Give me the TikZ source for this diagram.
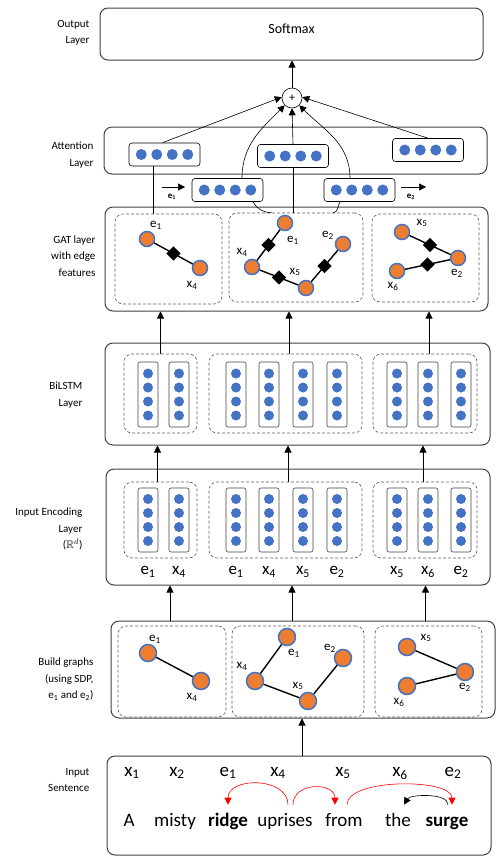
\documentclass[tikz,border=0pt]{standalone}
\usepackage{amssymb}
\usepackage{fontspec}
\setmainfont{Carlito}
\usetikzlibrary{fit, arrows.meta, shapes.geometric}
\definecolor{dotblue}{HTML}{4472C4}
\definecolor{vorange}{HTML}{ED7D31}
\definecolor{boxgray}{HTML}{404040}

\begin{document}
\begin{tikzpicture}[
                > = {Triangle[length = 7pt, width = 7pt]}, % arrow head style
                x = 1pt, y = -1pt, % one unit per pixel, y downwards
                semithick, % line style
                layer/.style = {draw = boxgray, line width = 1pt, rounded corners = 8pt,
                    inner sep = 0pt, fit = {#1}},
                grp/.style = {draw = boxgray!85, dash pattern = on 3pt off 2pt,
                    rounded corners = 8pt, inner sep = 0pt, fit = {#1}},
                vec/.style = {draw = black, rounded corners = 3pt,
                    minimum width = 71pt, minimum height = 23pt},
                col/.style = {draw = boxgray, rounded corners = 2pt,
                    inner sep = 0pt, minimum width = 20pt, minimum height = 65pt},
                dot/.style = {circle, fill = dotblue, inner sep = 0pt,
                    minimum size = 10pt},
                vert/.style = {circle, fill = vorange, draw = dotblue,
                    line width = 1.5pt, inner sep = 0pt, minimum size = 15pt},
                feat/.style = {diamond, fill = black, inner sep = 0pt,
                    minimum size = 15pt},
                link/.style = {line width = 1.4pt},
                side/.style = {anchor = east, align = right,
                    font = \fontsize{11}{16.5}\selectfont},
                glab/.style = {inner sep = 0pt, font = \fontsize{13}{15}\selectfont},
                tok/.style = {anchor = base, inner xsep = 1pt, inner ysep = 7pt,
                    text height = 14pt, text depth = 4pt,
                    font = \fontsize{19}{22}\selectfont}
            ]

            \useasboundingbox (0,0) rectangle (503,863);

            % layer frames
            \node[layer = {(100,8) (483,60)}] (out)
                {\fontsize{14}{16}\selectfont Softmax};
            \node[layer = {(104,127) (487,174)}] (att) {};
            \node[layer = {(105,207) (488,311)}] (gat) {};
            \node[layer = {(105,343) (490,445)}] (bil) {};
            \node[layer = {(106,469) (490,585)}] (enc) {};
            \node[layer = {(111,621) (495,718)}] (build) {};
            \node[layer = {(107,756) (491,855)}] (sent) {};

            % layer names
            \node[side] (lout) at (93,33) {Output\\Layer};
            \node[side] (latt) at (97,155) {Attention\\Layer};
            \node[side] (lgat) at (99,256) {GAT layer\\with edge\\features};
            \node[side] (lbil) at (86,395) {BiLSTM\\Layer};
            \node[side] (lenc) at (86,529) {Input Encoding\\Layer\\($\mathbb{R}^{d}$)};
            \node[side] (lbuild) at (97,679)
                {Build graphs\\(using SDP,\\e\textsubscript{1} and e\textsubscript{2})};
            \node[side] (lsent) at (93,780) {Input\\Sentence};

            % attention
            \node[circle, draw = black, inner sep = 0pt, minimum size = 20pt,
                font = \fontsize{12}{12}\selectfont] (plus) at (292,98) {+};
            \node[vec] (a1) at (164.5,154.5) {};
            \node[vec] (a2) at (293,156) {};
            \node[vec] (a3) at (428,150) {};
            \node[vec] (l1) at (227.5,190) {};
            \node[vec] (l2) at (359.5,190) {};
            \foreach \nm in {a1,a2,a3,l1,l2}
                \foreach \d in {-23.25,-7.75,7.75,23.25}
                    \node[dot, minimum size = 11pt] at ([xshift=\d]\nm.center) {};

            \node[inner sep = 0pt, font = \bfseries\fontsize{9}{10}\selectfont]
                (v1) at (172,197) {e\textsubscript{1}};
            \node[inner sep = 0pt, font = \bfseries\fontsize{9}{10}\selectfont]
                (v2) at (411,197) {e\textsubscript{2}};
            \coordinate (v1a) at (162,187); \coordinate (v1b) at (185,187);
            \coordinate (v2a) at (401,187); \coordinate (v2b) at (426,187);
            \draw[->] (v1a) -- (v1b);
            \draw[->] (v2a) -- (v2b);

            \draw[->] (plus.north) -- (plus.north |- out.south);
            \draw[->] ([xshift=-2]a1.north) -- (plus.175);
            \draw[->] (a2.north) -- (plus.south);
            \draw[->] (a3.north) -- (plus.5);
            \draw[->] ([xshift=14.5]l1.north) to[out=90, in=225] (plus.225);
            \draw[->] ([xshift=-9.5]l2.north) to[out=90, in=-45] (plus.-45);

            % GAT groups
            \node[grp = {(115,214) (222,304)}] (gl) {};
            \node[grp = {(229,213) (363,302)}] (gm) {};
            \node[grp = {(372,214) (479,302)}] (gr) {};

            \draw ([xshift=-11.5]a1.south) -- ([xshift=-11.5]a1.south |- gl.north);
            \draw (a2.south) -- (a2.south |- gm.north);
            \draw ([xshift=25.5]l1.south) to[out=-60, in=180] ([xshift=-24]gm.north);
            \draw ([xshift=-19.5]l2.south) to[out=-120, in=0] ([xshift=37]gm.north);

            \node[vert] (ge1) at (147,239) {}; \node[vert] (gx4) at (200,268) {};
            \node[vert] (me1) at (285,223) {}; \node[vert] (mx4) at (252,267) {};
            \node[vert] (mx5) at (306,288) {}; \node[vert] (me2) at (343,244) {};
            \node[vert] (rx5) at (402,232) {}; \node[vert] (re2) at (458,258) {};
            \node[vert] (rx6) at (397,271) {};

            \path[link] (ge1) edge node[feat] {} (gx4);
            \path[link] (mx4) edge node[feat] {} (me1);
            \path[link] (mx4) edge node[feat] {} (mx5);
            \path[link] (mx5) edge node[feat] {} (me2);
            \path[link] (rx5) edge node[feat] {} (re2);
            \path[link] (rx6) edge node[feat] {} (re2);

            \node[glab] (tge1) at (156,225) {e\textsubscript{1}};
            \node[glab] (tgx4) at (192,285) {x\textsubscript{4}};
            \node[glab] (tme1) at (293,240) {e\textsubscript{1}};
            \node[glab] (tmx4) at (242,252) {x\textsubscript{4}};
            \node[glab] (tmx5) at (295,272) {x\textsubscript{5}};
            \node[glab] (tme2) at (328,235) {e\textsubscript{2}};
            \node[glab] (trx5) at (422,223) {x\textsubscript{5}};
            \node[glab] (tre2) at (457,273) {e\textsubscript{2}};
            \node[glab] (trx6) at (393,286) {x\textsubscript{6}};

            % BiLSTM
            \node[grp = {(124,354) (197,433)}] (bg1) {};
            \node[grp = {(209,354) (362,433)}] (bg2) {};
            \node[grp = {(373,354) (477,433)}] (bg3) {};
            \foreach \nm/\cx in {b1/148, b2/179, b3/236, b4/269, b5/303,
                                 b6/337, b7/397, b8/428, b9/461} {
                \node[col] (\nm) at (\cx,394.5) {};
                \foreach \d in {-21,-7,7,21}
                    \node[dot] at ([yshift=\d]\nm.center) {};
            }
            \foreach \g/\s in {bg1/0, bg2/3.5, bg3/4}
                \draw[->] ([xshift=\s]\g.north) -- ([xshift=\s]\g.north |- gat.south);

            % input encoding
            \node[grp = {(124,482) (197,558)}] (eg1) {};
            \node[grp = {(209,482) (362,558)}] (eg2) {};
            \node[grp = {(373,482) (477,558)}] (eg3) {};
            \foreach \nm/\cx/\t in {c1/148/e\textsubscript{1}, c2/179/x\textsubscript{4},
                                    c3/236/e\textsubscript{1}, c4/269/x\textsubscript{4},
                                    c5/303/x\textsubscript{5}, c6/337/e\textsubscript{2},
                                    c7/397/x\textsubscript{5}, c8/428/x\textsubscript{6},
                                    c9/461/e\textsubscript{2}} {
                \node[col, minimum height = 64pt] (\nm) at (\cx,520) {};
                \foreach \d in {-21,-7,7,21}
                    \node[dot] at ([yshift=\d]\nm.center) {};
                \node[inner sep = 0pt, font = \fontsize{17}{19}\selectfont]
                    (\nm t) at (\cx,572) {\t};
            }
            \foreach \g/\s in {eg1/-3, eg2/2.5, eg3/-2}
                \draw[->] ([xshift=\s]\g.north) -- ([xshift=\s]\g.north |- bil.south);

            % build graphs
            \node[grp = {(118,626) (226,717)}] (hg1) {};
            \node[grp = {(232,626) (364,717)}] (hg2) {};
            \node[grp = {(375,626) (482,717)}] (hg3) {};
            \foreach \g/\s in {hg1/-2, hg2/-6, hg3/-3}
                \draw[->] ([xshift=\s]\g.north |- build.north)
                    -- ([xshift=\s]\g.north |- enc.south);

            \node[vert, minimum size = 17pt] (be1) at (148,653) {};
            \node[vert, minimum size = 17pt] (bx4) at (201,681) {};
            \node[vert, minimum size = 17pt] (ce1) at (287,637) {};
            \node[vert, minimum size = 17pt] (cx4) at (255,681) {};
            \node[vert, minimum size = 17pt] (cx5) at (308,701) {};
            \node[vert, minimum size = 17pt] (ce2) at (343,658) {};
            \node[vert, minimum size = 17pt] (dx5) at (407,647) {};
            \node[vert, minimum size = 17pt] (de2) at (465,672) {};
            \node[vert, minimum size = 17pt] (dx6) at (407,686) {};

            \path[link] (be1) edge (bx4); \path[link] (cx4) edge (ce1);
            \path[link] (cx4) edge (cx5); \path[link] (cx5) edge (ce2);
            \path[link] (dx5) edge (de2); \path[link] (dx6) edge (de2);

            \node[glab] (tbe1) at (155,639) {e\textsubscript{1}};
            \node[glab] (tbx4) at (192,697) {x\textsubscript{4}};
            \node[glab] (tce1) at (294,653) {e\textsubscript{1}};
            \node[glab] (tcx4) at (242,666) {x\textsubscript{4}};
            \node[glab] (tcx5) at (298,686) {x\textsubscript{5}};
            \node[glab] (tce2) at (330,648) {e\textsubscript{2}};
            \node[glab] (tdx5) at (426,638) {x\textsubscript{5}};
            \node[glab] (tde2) at (465,687) {e\textsubscript{2}};
            \node[glab] (tdx6) at (399,702) {x\textsubscript{6}};

            \draw[->] ([xshift=3]sent.north) -- ([xshift=3]sent.north |- build.south);

            % input sentence
            \foreach \nm/\cx/\t in {t1/132/x\textsubscript{1}, t2/177/x\textsubscript{2},
                                    t3/228/e\textsubscript{1}, t4/278/x\textsubscript{4},
                                    t5/343/x\textsubscript{5}, t6/400/x\textsubscript{6},
                                    t7/453/e\textsubscript{2}}
                \node[tok] (\nm) at (\cx,776) {\t};
            \foreach \nm/\cx/\t in {w1/129/A, w2/175/misty, w3/228/\textbf{ridge},
                                    w4/285/uprises, w5/344/from, w6/398/the,
                                    w7/447/\textbf{surge}}
                \node[tok] (\nm) at (\cx,826) {\t};

            \draw[->, red] ([xshift=3]w4.north) to[out=90, in=90, looseness=1.2] (w3.north);
            \draw[->, red] ([xshift=8]w4.north) to[out=90, in=90, looseness=1.4] ([xshift=-9]w5.north);
            \draw[->, red] ([xshift=3]w5.north) to[out=90, in=90, looseness=0.65] ([xshift=5]w7.north);
            \draw[->] ([xshift=1]w7.north) to[out=90, in=60, looseness=0.7] ([xshift=6]w6.north);

        \end{tikzpicture}
\end{document}
